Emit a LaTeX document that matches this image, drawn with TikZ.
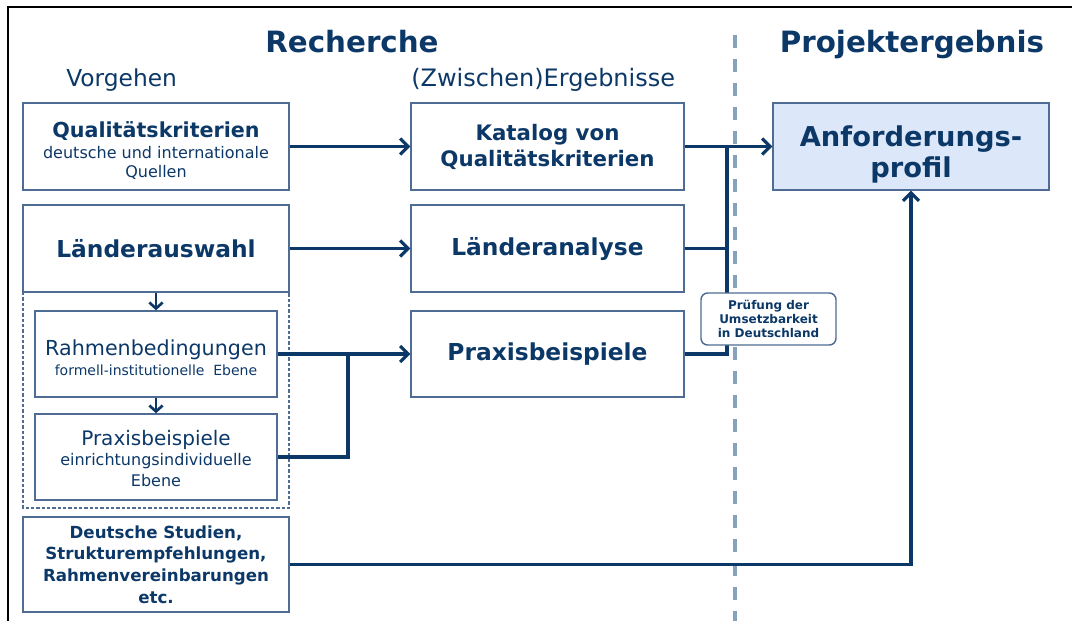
\documentclass[tikz,border=0pt]{standalone}
\usepackage{fontspec}
\setmainfont{DejaVu Sans}
\usetikzlibrary{arrows.meta}
\definecolor{figN}{RGB}{12,56,104}
\definecolor{figE}{RGB}{78,108,148}
\definecolor{figS}{RGB}{136,162,190}
\definecolor{figF}{RGB}{220,232,250}
\newcommand{\fs}[2]{\fontsize{#1}{#2}\selectfont}
\newcommand{\up}[1]{\rule{0pt}{#1}}

\begin{document}
\begin{tikzpicture}[x=0.75pt,y=-0.75pt,>={Straight Barb[length=6pt,width=12pt]},
  box/.style={draw=figE,line width=1.1pt,text=figN,align=center,inner sep=0pt},
  link/.style={figN,line width=2.3pt},
  hd/.style={text=figN,font=\bfseries\fs{22}{26}},
  sub/.style={text=figN,font=\fs{17.5}{20},anchor=west,inner sep=0pt}]
\useasboundingbox (0,0) rectangle (1072,621);
\draw[line width=2.2pt] (1072,7)--(8,7)--(8,621);
\draw[figS,line width=2.6pt,dash pattern=on 10pt off 8pt] (735,35)--(735,621);
% headings
\node[hd] (hrech) at (352,42) {Recherche};
\node[hd] (hproj) at (912,45) {Projektergebnis};
\node[sub] (hvorg) at (66,80) {Vorgehen};
\node[sub,font=\fs{18}{20}] (herg) at (411,80) {(Zwischen)Ergebnisse};
% left column
\draw[figE,line width=0.8pt,dash pattern=on 2.5pt off 1.5pt] (23,292) rectangle (289,508);
\node[box,minimum width=199.5pt,minimum height=65.25pt,font=\fs{12}{14}] (qual) at (156,146.5)
  {{\bfseries\fs{15.5}{19}\up{18pt}Qualitätskriterien}\\[1.75pt]deutsche und internationale\\[-0.25pt]Quellen};
\node[box,minimum width=199.5pt,minimum height=65.25pt,font=\bfseries\fs{17.5}{20}] (laender) at (156,248.5) {Länderauswahl};
\node[box,minimum width=181.5pt,minimum height=64.5pt,font=\fs{10.5}{13}] (rahmen) at (156,354)
  {{\fs{15.5}{18}\up{17pt}Rahmenbedingungen}\\[2.25pt]formell-institutionelle\ \ Ebene};
\node[box,minimum width=181.5pt,minimum height=64.5pt,font=\fs{12}{14}] (praxl) at (156,457)
  {{\fs{15}{18}\up{13.5pt}Praxisbeispiele}\\[1pt]einrichtungsindividuelle\\[1.25pt]Ebene};
\node[box,minimum width=199.5pt,minimum height=71.25pt,font=\bfseries\fs{12.5}{16.3}] (studien) at (156,564.5)
  {Deutsche Studien,\\Strukturempfehlungen,\\Rahmenvereinbarungen\\etc.};
% middle column
\node[box,minimum width=204.75pt,minimum height=65.25pt,font=\bfseries\fs{16}{19.5}] (katalog) at (547.5,146.5)
  {Katalog von\\Qualitätskriterien};
\node[box,minimum width=204.75pt,minimum height=65.25pt,font=\bfseries\fs{17.5}{20}] (lanalyse) at (547.5,248.5) {Länderanalyse};
\node[box,minimum width=204.75pt,minimum height=64.5pt,font=\bfseries\fs{17.5}{20}] (praxr) at (547.5,354) {Praxisbeispiele};
% result
\node[box,fill=figF,minimum width=207pt,minimum height=65.25pt,font=\bfseries\fs{20.5}{23}] (anf) at (911,146.5)
  {\up{28pt}Anforderungs-\\profil};
% connectors
\draw[link,->] (qual) -- (katalog);
\draw[link,->] (laender) -- (lanalyse);
\draw[link,->] (rahmen) -- (praxr);
\coordinate (j1) at (348,354);
\draw[link] (praxl.east) -| (j1);
\draw[figN,line width=2pt,-{Straight Barb[length=4.5pt,width=10pt]}] (laender.south) -- (rahmen.north);
\draw[figN,line width=2pt,-{Straight Barb[length=4.5pt,width=10pt]}] (rahmen.south) -- (praxl.north);
\draw[link,->] (katalog) -- (anf);
\coordinate (t1) at (727,146.5);
\draw[link] (lanalyse.east) -- (lanalyse.east -| t1);
\draw[link] (praxr.east) -| (t1);
\node[box,fill=white,rounded corners=5pt,minimum width=101.25pt,minimum height=39pt,font=\bfseries\fs{9}{10.5}] (pruef) at (768.5,319)
  {Prüfung der\\Umsetzbarkeit\\in Deutschland};
\draw[link,->] (studien.east) -| (anf.south);
\end{tikzpicture}
\end{document}
